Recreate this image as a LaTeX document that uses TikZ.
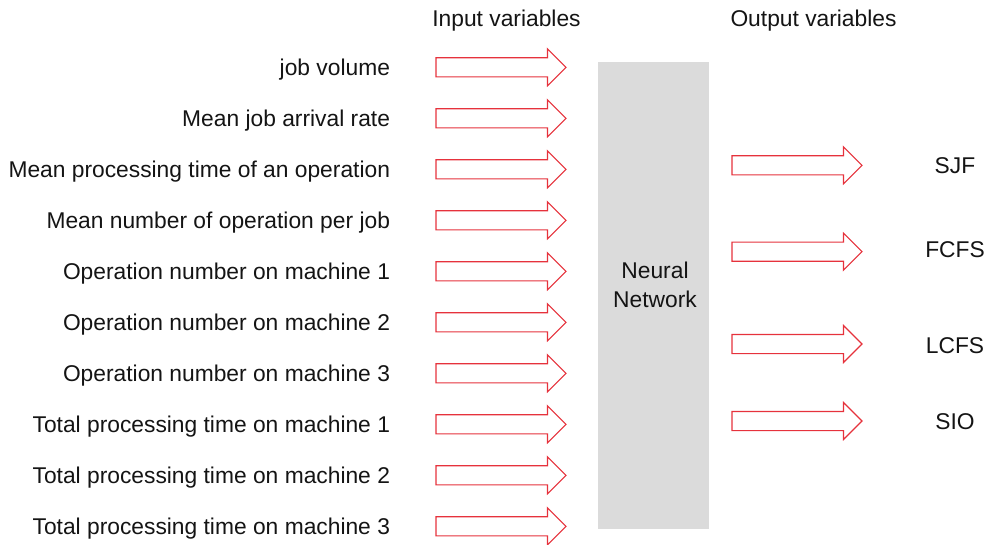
\documentclass[tikz,border=0pt]{standalone}
\usepackage{fontspec}
\setmainfont{Liberation Sans}
\usetikzlibrary{shapes.arrows}
\definecolor{arrred}{RGB}{230,50,60}
\definecolor{boxgray}{RGB}{219,219,219}
\definecolor{txt}{RGB}{20,20,20}
\tikzset{
  blockarrow/.style={single arrow, draw=arrred, line width=1.1pt, fill=white,
    minimum height=130pt, minimum width=36pt, single arrow head extend=9pt,
    inner xsep=0pt, inner ysep=9pt, outer sep=0pt, anchor=tail},
  lab/.style={inner sep=0pt, outer sep=0pt, text=txt, font=\fontsize{22.8}{29}\selectfont},
  nnbox/.style={fill=boxgray, draw=none, minimum width=111pt, minimum height=467.6pt, inner sep=0pt}
}
\begin{document}
\begin{tikzpicture}[x=1pt,y=-1pt]
\useasboundingbox (0,0) rectangle (992,544);
\node[lab, anchor=base] (hin) at (506.5,26) {Input variables};
\node[lab, anchor=base] (hout) at (813.5,26) {Output variables};
\node[nnbox] (nn) at (653.8,295.5) {};
\node[lab, align=center, anchor=base] (nnl) at (655,307.3) {Neural\\Network};
\foreach \t [count=\i] in {job volume,Mean job arrival rate,Mean processing time of an operation,Mean number of operation per job,Operation number on machine 1,Operation number on machine 2,Operation number on machine 3,Total processing time on machine 1,Total processing time on machine 2,Total processing time on machine 3}{
  \pgfmathsetmacro{\yy}{67.3+(\i-1)*51.0}
  \node[blockarrow] (in\i) at (436,\yy) {};
  \node[lab, anchor=base east] (t\i) at (390,\yy+8.1) {\t};
}
\foreach \t/\yy [count=\i] in {SJF/165.3,FCFS/251.7,LCFS/344,SIO/421}{
  \node[blockarrow] (out\i) at (732,\yy) {};
}
\foreach \t/\yy [count=\i] in {SJF/165,FCFS/249,LCFS/345,SIO/421}{
  \node[lab, anchor=base] (o\i) at (955,\yy+8.1) {\t};
}
\end{tikzpicture}
\end{document}
